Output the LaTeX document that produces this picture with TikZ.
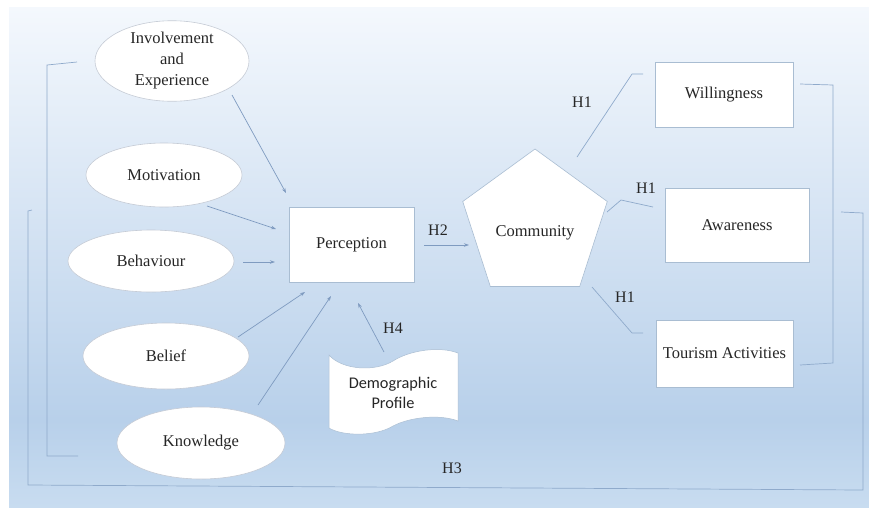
\documentclass[tikz,border=0pt]{standalone}
\usepackage{fontspec}
\setmainfont{Liberation Serif}
\newfontfamily\calib{Carlito}
\usetikzlibrary{shapes.geometric,arrows.meta}
\definecolor{lnc}{HTML}{8FAACB}
\definecolor{arc}{HTML}{7F9BC0}
\definecolor{txc}{HTML}{262626}
\definecolor{elb}{HTML}{C5CBD5}
\definecolor{rcb}{HTML}{A9BDD2}
\definecolor{bgtop}{HTML}{F4F8FD}
\definecolor{bgmid}{HTML}{B8D0EA}
\definecolor{bgbot}{HTML}{C8DCF0}
\tikzset{
  ell/.style={ellipse, draw=elb, fill=white, line width=0.6pt, inner sep=0pt, text=txc, align=center,
     font=\fontsize{16.5}{21}\selectfont},
  box/.style={rectangle, draw=rcb, fill=white, line width=0.6pt, inner sep=0pt, text=txc,
     font=\fontsize{16.5}{20}\selectfont},
  lab/.style={text=txc, font=\fontsize{16}{19}\selectfont, inner sep=1pt},
  conn/.style={draw=lnc, line width=0.7pt},
  arr/.style={draw=arc, line width=0.7pt, -{Stealth[length=5pt,width=3.5pt]}}
}
\begin{document}
\begin{tikzpicture}[x=1pt,y=-1pt]
\useasboundingbox (0,0) rectangle (869,507);
\fill[white] (0,0) rectangle (869,507);
\shade[top color=bgtop, bottom color=bgmid] (9,7) rectangle (869,420);
\shade[top color=bgmid, bottom color=bgbot] (9,420) rectangle (869,507);

% ellipses
\node[ell, minimum width=154pt, minimum height=74pt] (inv) at (172,61) {Involvement\\and\\Experience};
\node[ell, minimum width=156pt, minimum height=64pt] (mot) at (164,175) {Motivation};
\node[ell, minimum width=166pt, minimum height=62pt] (beh) at (151,261) {Behaviour};
\node[ell, minimum width=166pt, minimum height=66pt] (bel) at (166,356) {Belief};
\node[ell, minimum width=168pt, minimum height=72pt] (kno) at (201,443) {Knowledge};

% perception
\node[box, minimum width=125pt, minimum height=75pt] (per) at (351.5,244.5) {Perception};

% community pentagon
\node[regular polygon, regular polygon sides=5, draw=rcb, fill=white, line width=0.6pt,
      minimum size=152pt, inner sep=0pt] (com) at (535,225) {};
\node[lab, font=\fontsize{16.5}{20}\selectfont] (comtxt) at (535,233) {Community};

% right boxes
\node[box, minimum width=138pt, minimum height=65pt] (wil) at (724,94.5) {Willingness};
\node[box, minimum width=144pt, minimum height=74pt] (awa) at (737,225) {Awareness};
\node[box, minimum width=137pt, minimum height=67pt] (tou) at (724.5,353.5) {Tourism Activities};

% demographic profile (tape)
\fill[white, draw=rcb, line width=0.5pt]
  (329,355) .. controls (342,370) and (375,372) .. (393,361)
  .. controls (410,350) and (440,346) .. (458,353) -- (458,421)
  .. controls (440,414) and (410,417) .. (393,426)
  .. controls (375,437) and (342,436) .. (329,428) -- cycle;
\node[text=txc, align=center, font=\calib\fontsize{16.3}{20}\selectfont] (demo) at (393,393) {Demographic\\Profile};

% arrow coordinates
\coordinate (invS) at (232,95);   \coordinate (invE) at (286,193);
\coordinate (motS) at (207,206);  \coordinate (motE) at (276,229);
\coordinate (behS) at (243,262);  \coordinate (behE) at (275,262);
\coordinate (belS) at (238,337);  \coordinate (belE) at (305,292);
\coordinate (knoS) at (258,405);  \coordinate (knoE) at (331,296);
\coordinate (demS) at (384,352);  \coordinate (demE) at (358,303);
\coordinate (perS) at (424,245);  \coordinate (comE) at (469,245);

\draw[arr] (invS) -- (invE);
\draw[arr] (motS) -- (motE);
\draw[arr] (behS) -- (behE);
\draw[arr] (belS) -- (belE);
\draw[arr] (knoS) -- (knoE);
\draw[arr] (demS) -- (demE);
\draw[arr] (perS) -- (comE);

% H1 connectors
\coordinate (w1) at (577,157); \coordinate (w2) at (632,74); \coordinate (w3) at (643,74);
\draw[conn] (w1) -- (w2) -- (w3);
\coordinate (a1) at (607,212); \coordinate (a2) at (621,200); \coordinate (a3) at (653,207);
\draw[conn] (a1) -- (a2) -- (a3);
\coordinate (t1) at (592,287); \coordinate (t2) at (632,333); \coordinate (t3) at (643,333);
\draw[conn] (t1) -- (t2) -- (t3);

% right bracket
\coordinate (rb1) at (800,84); \coordinate (rb2) at (833,85);
\coordinate (rb3) at (833,363); \coordinate (rb4) at (800,365);
\draw[conn] (rb1) -- (rb2) -- (rb3) -- (rb4);

% outer bracket H3
\coordinate (ob1) at (841,212); \coordinate (ob2) at (863,213);
\coordinate (ob3) at (863,490); \coordinate (ob4) at (28,485);
\coordinate (ob5) at (28,211); \coordinate (ob6) at (32,210);
\draw[conn] (ob1) -- (ob2) -- (ob3) -- (ob4) -- (ob5) -- (ob6);

% inner left bracket
\coordinate (lb1) at (77,62); \coordinate (lb2) at (47,65);
\coordinate (lb3) at (47,456); \coordinate (lb4) at (78,456);
\draw[conn] (lb1) -- (lb2) -- (lb3) -- (lb4);

% labels
\node[lab] (h1a) at (582,102) {H1};
\node[lab] (h1b) at (646,188) {H1};
\node[lab] (h1c) at (625,297) {H1};
\node[lab] (h2) at (438,230) {H2};
\node[lab] (h4) at (393,328) {H4};
\node[lab] (h3) at (452,468) {H3};
\end{tikzpicture}
\end{document}
